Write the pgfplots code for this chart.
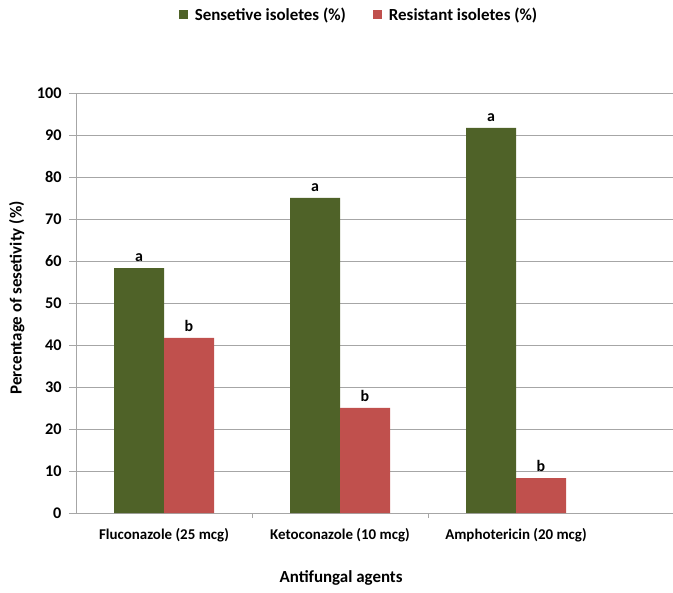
\documentclass[border=0pt]{standalone}
\usepackage{fontspec}
\setmainfont{Carlito}
\usepackage{pgfplots}
\pgfplotsset{compat=1.18}
\definecolor{sgreen}{HTML}{4F6228}
\definecolor{rred}{HTML}{C0504D}
\definecolor{gridc}{HTML}{A6A6A6}
\begin{document}
\begin{tikzpicture}
\useasboundingbox (-76bp,-80bp) rectangle (597bp,513bp);
\begin{axis}[
  scale only axis, width=597bp, height=420bp,
  at={(0,0)}, anchor=south west,
  ybar=0pt, bar width=50bp,
  xmin=-0.5, xmax=2.892,
  ymin=0, ymax=100, ytick={0,10,...,100},
  xtick={0,1,2},
  xticklabels={Fluconazole (25 mcg),Ketoconazole (10 mcg),Amphotericin (20 mcg)},
  major x tick style={draw=none},
  minor xtick={0.5,1.5},
  minor x tick style={gridc},
  minor tick length=5bp,
  major tick length=7bp,
  tick align=outside,
  axis x line*=bottom, axis y line*=left,
  axis line style={gridc},
  y tick style={gridc},
  ymajorgrids, grid style={gridc},
  /pgf/number format/assume math mode=true,
  yticklabel style={font=\bfseries\fontsize{16.3}{18}\selectfont, xshift=-4bp},
  xticklabel style={font=\bfseries\fontsize{15}{18}\selectfont, yshift=-5bp},
  ylabel={Percentage of sesetivity (\%)},
  xlabel={Antifungal agents},
  label style={font=\bfseries\fontsize{17}{20}\selectfont},
  xlabel style={at={(axis description cs:0.444,0)}, anchor=center, yshift=-65bp},
  ylabel style={at={(axis description cs:-0.099,0.512)}, anchor=center},
  clip=false,
  legend style={at={(0.474,1.186)}, anchor=center, draw=none, legend columns=2,
    font=\bfseries\fontsize{17}{20}\selectfont,
    /tikz/every even column/.append style={column sep=25bp}},
  legend image code/.code={\fill[#1,draw=none] (0bp,-4.5bp) rectangle (9bp,4.5bp); \path (14bp,0bp);},
]
\addplot[fill=sgreen, draw=none, nodes near coords={a},
  every node near coord/.append style={font=\bfseries\fontsize{16}{18}\selectfont, black, yshift=3bp}]
  coordinates {(0,58.3) (1,75.0) (2,91.7)};
\addplot[fill=rred, draw=none, nodes near coords={b},
  every node near coord/.append style={font=\bfseries\fontsize{16}{18}\selectfont, black, yshift=3bp}]
  coordinates {(0,41.7) (1,25.0) (2,8.3)};
\legend{Sensetive isoletes (\%), Resistant isoletes (\%)}
\end{axis}
\end{tikzpicture}
\end{document}
